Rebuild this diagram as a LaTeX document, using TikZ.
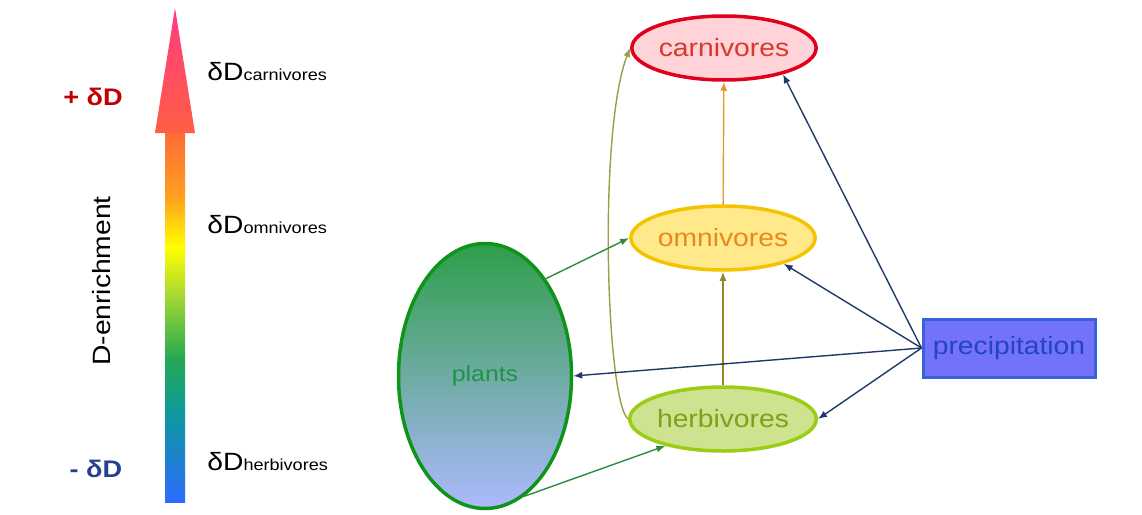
\documentclass[tikz,border=0pt]{standalone}
\usepackage{fontspec}
\setmainfont{Liberation Sans}[FakeStretch=1.13]
\usetikzlibrary{shapes.geometric,arrows.meta}

\definecolor{carnline}{HTML}{E0001B}
\definecolor{carnfill}{HTML}{FFD3D8}
\definecolor{carntext}{HTML}{D9382C}
\definecolor{omniline}{HTML}{F5C400}
\definecolor{omnifill}{HTML}{FFE98A}
\definecolor{omnitext}{HTML}{E8891A}
\definecolor{herbline}{HTML}{9ACD14}
\definecolor{herbfill}{HTML}{CDE38F}
\definecolor{herbtext}{HTML}{7BA21A}
\definecolor{plantline}{HTML}{0E9418}
\definecolor{planttop}{HTML}{2E9E48}
\definecolor{plantmid}{HTML}{5DAA9E}
\definecolor{plantbot}{HTML}{AEB9FF}
\definecolor{planttext}{HTML}{1E9446}
\definecolor{precline}{HTML}{3A62D6}
\definecolor{precfill}{HTML}{7272FA}
\definecolor{prectext}{HTML}{2444C8}
\definecolor{navy}{HTML}{1F3A68}
\definecolor{leafgreen}{HTML}{2E8A3E}
\definecolor{olive}{HTML}{8C8C22}
\definecolor{amber}{HTML}{E8962E}
\definecolor{plusred}{HTML}{C00000}
\definecolor{minusblue}{HTML}{27418F}
\definecolor{headbase}{HTML}{FF5E44}
\definecolor{headtip}{HTML}{FF3C82}

% rainbow for the arrow shaft (bottom to top)
\pgfdeclareverticalshading{rainbowshaft}{100bp}{%
  rgb(0bp)=(0.18,0.42,1);
  rgb(25bp)=(0.18,0.42,1);
  rgb(37bp)=(0.05,0.60,0.62);
  rgb(44.5bp)=(0.15,0.66,0.32);
  rgb(53bp)=(0.65,0.85,0.2);
  rgb(59.5bp)=(1,1,0);
  rgb(66.5bp)=(1,0.62,0.12);
  rgb(75bp)=(1,0.42,0.22);
  rgb(100bp)=(1,0.42,0.22)}

\tikzset{every picture/.style={line width=0.75pt},
  group/.style={ellipse, line width=3.5pt, minimum width=171pt, minimum height=64pt, inner sep=0pt, font=\fontsize{25}{25}\selectfont},
  flow/.style={-{Latex[length=9pt,width=7pt]}, line width=1.4pt},
  dlabel/.style={anchor=base west, inner sep=0pt},
  enrich/.style={inner sep=0pt, font=\bfseries\fontsize{24}{24}\selectfont}
}

\begin{document}
\begin{tikzpicture}[x=1pt,y=1pt,yscale=-1]
\useasboundingbox (0,0) rectangle (1142,514);

% rainbow arrow
\shade[shading=rainbowshaft] (165,133) rectangle (185,502);
\shade[top color=headtip, bottom color=headbase] (155,133) -- (175,8) -- (195,133) -- cycle;

% Text Node
\node[enrich, text=plusred] (plus) at (93,97) {+ δD};
\node[enrich, text=minusblue] (minus) at (96,469) {- δD};
\node[rotate=90, inner sep=0pt, font=\fontsize{25}{25}\selectfont] (axis) at (102,281) {D-enrichment};
\node[dlabel] (dcarn) at (207,80) {{\fontsize{25}{25}\selectfont δD}{\fontsize{16}{16}\selectfont carnivores}};
\node[dlabel] (domni) at (207,233) {{\fontsize{25}{25}\selectfont δD}{\fontsize{16}{16}\selectfont omnivores}};
\node[dlabel] (dherb) at (207,470) {{\fontsize{25}{25}\selectfont δD}{\fontsize{16}{16}\selectfont herbivores}};

% food web
\node[group, draw=carnline, fill=carnfill, text=carntext] (carn) at (724,48) {carnivores};
\node[group, draw=omniline, fill=omnifill, text=omnitext] (omni) at (723,238) {omnivores};
\node[group, draw=herbline, fill=herbfill, text=herbtext] (herb) at (723,419) {herbivores};
\node[ellipse, draw=plantline, line width=3.5pt, minimum width=173pt, minimum height=265pt, inner sep=0pt,
  top color=planttop, middle color=plantmid, bottom color=plantbot, text=planttext,
  font=\fontsize{22}{22}\selectfont] (plants) at (485,376) {plants};
\node[draw=precline, fill=precfill, text=prectext, line width=3pt, minimum width=172pt, minimum height=58pt,
  inner sep=0pt, font=\fontsize{25}{25}\selectfont] (prec) at (1009,348) {precipitation};

%Straight Lines
\draw[flow, olive] (herb) -- (omni);
\draw[flow, amber] (omni) -- (carn);
\draw[flow, olive!85!white] (herb.west) .. controls (606,400) and (598,130) .. (carn.west);
\draw[flow, leafgreen] (plants.58) -- (omni.west);
\draw[flow, leafgreen] (plants.-72) -- (herb.-155);
\draw[flow, navy] (prec.west) -- (carn.-24);
\draw[flow, navy] (prec.west) -- (omni.-23);
\draw[flow, navy] (prec.west) -- (plants.east);
\draw[flow, navy] (prec.west) -- (herb.east);

\end{tikzpicture}
\end{document}
